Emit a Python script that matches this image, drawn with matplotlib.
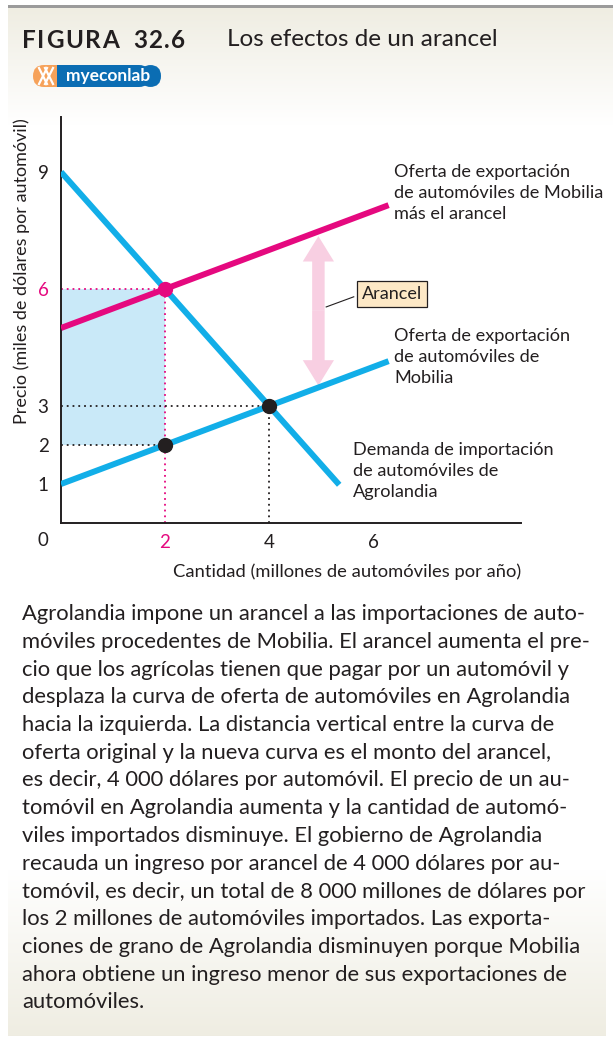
import numpy as np
import matplotlib
matplotlib.use("Agg")
import matplotlib.pyplot as plt
from matplotlib.patches import FancyBboxPatch, Rectangle, FancyArrow

# ---------------------------------------------------------------------------
# Data (quantities in millions of cars per year, prices in thousands of $)
# ---------------------------------------------------------------------------
supply_q = [0.0, 6.3]          # Mobilia export supply
supply_p = [1.0, 4.15]
tariff_q = [0.0, 6.3]          # supply plus tariff
tariff_p = [5.0, 8.15]
demand_q = [0.0, 5.35]         # Agrolandia import demand
demand_p = [9.0, 0.98]

free_q, free_p = 4, 3          # free-trade equilibrium
tariff_eq_q, tariff_eq_p = 2, 6  # equilibrium with tariff
exporter_p = 2                 # price received by Mobilia
arrow_q = 4.95                 # where the tariff arrow is drawn

x_tick_vals = [2, 4]
x_tick_labels = ["2", "4"]
y_tick_vals = [1, 2, 3, 6, 9]
y_tick_labels = ["1", "2", "3", "6", "9"]

caption_lines = [
    "Agrolandia impone un arancel a las importaciones de auto-",
    "móviles procedentes de Mobilia. El arancel aumenta el pre-",
    "cio que los agrícolas tienen que pagar por un automóvil y",
    "desplaza la curva de oferta de automóviles en Agrolandia",
    "hacia la izquierda. La distancia vertical entre la curva de",
    "oferta original y la nueva curva es el monto del arancel,",
    "es decir, 4\u00a0000 dólares por automóvil. El precio de un au-",
    "tomóvil en Agrolandia aumenta y la cantidad de automó-",
    "viles importados disminuye. El gobierno de Agrolandia",
    "recauda un ingreso por arancel de 4\u00a0000 dólares por au-",
    "tomóvil, es decir, un total de 8\u00a0000 millones de dólares por",
    "los 2 millones de automóviles importados. Las exporta-",
    "ciones de grano de Agrolandia disminuyen porque Mobilia",
    "ahora obtiene un ingreso menor de sus exportaciones de",
    "automóviles.",
]

# ---------------------------------------------------------------------------
# Styles
# ---------------------------------------------------------------------------
BLUE = "#12aee8"
PINK = "#e5097f"
SHADE = "#c9e9f8"
ARROW = "#f8cfe2"
TEXT = "#231f20"
plt.rcParams["font.family"] = ["Lato", "DejaVu Sans"]

W, H = 613, 1044
fig = plt.figure(figsize=(W / 100, H / 100), dpi=100)
fig.patch.set_facecolor("white")
renderer = fig.canvas.get_renderer()

# background axes in pixel coordinates
bg = fig.add_axes([0, 0, 1, 1], zorder=0)
bg.axis("off")

cream = np.array([0.937, 0.929, 0.886])
white = np.array([1.0, 1.0, 1.0])
t = np.linspace(0, 1, 200)[:, None]
top_grad = (cream * (1 - t) + white * t)[:, None, :]
bg.imshow(top_grad, extent=(8, W, 125, 7), aspect="auto", zorder=0)
bot_grad = (white * (1 - t) + cream * t)[:, None, :]
bg.imshow(bot_grad, extent=(8, 606, 1036, 870), aspect="auto", zorder=0)
bg.add_patch(Rectangle((8, 4.5), W - 8, 3, color="#9b9b9b", lw=0, zorder=1))
bg.set_xlim(0, W)
bg.set_ylim(H, 0)

# header, "FIGURA 32.6" with a bit of letter spacing
x = 22
for ch in "FIGURA  32.6":
    tx = bg.text(x, 40, ch, fontsize=17.5, fontweight="bold", color=TEXT,
                 va="center", ha="left")
    x += tx.get_window_extent(renderer).width + 1.6 if ch != " " else 6
bg.text(227, 40, "Los efectos de un arancel", fontsize=17.5, color=TEXT,
        va="center", ha="left")

# myeconlab badge
bg.add_patch(FancyBboxPatch((44, 65), 106, 22,
                            boxstyle="round,pad=0,rounding_size=11",
                            fc="#0b6db3", ec="none", zorder=2))
bg.add_patch(FancyBboxPatch((33, 65), 40, 22,
                            boxstyle="round,pad=0,rounding_size=11",
                            fc="#f6a25a", ec="none", zorder=3))
bg.add_patch(Rectangle((57, 65), 30, 22, fc="#0b6db3", ec="none", zorder=4))
bg.add_patch(FancyBboxPatch((140, 65), 21, 22,
                            boxstyle="round,pad=0,rounding_size=11",
                            fc="#0b6db3", ec="none", zorder=2))
bg.plot([39, 47], [68, 84], color="white", lw=1.6, zorder=5)
bg.plot([47, 39], [68, 84], color="white", lw=1.6, zorder=5)
bg.plot([45, 53], [68, 84], color="white", lw=1.6, zorder=5)
bg.plot([53, 45], [68, 84], color="white", lw=1.6, zorder=5)
bg.text(108, 76.5, "myeconlab", fontsize=12.5, fontweight="bold", color="white",
        ha="center", va="center", zorder=6)

# ---------------------------------------------------------------------------
# Chart axes: x=0 at px 61 (52 px/unit), y=0 at px 523 (39 px/unit)
# ---------------------------------------------------------------------------
x0, y0, sx, sy = 61, 523, 52.0, 39.0
xmax = (521 - x0) / sx
ymax = (y0 - 117) / sy
ax = fig.add_axes([x0 / W, 1 - y0 / H, (521 - x0) / W, (y0 - 117) / H], zorder=2)
ax.set_xlim(0, xmax)
ax.set_ylim(0, ymax)
ax.patch.set_alpha(0)
for s in ["top", "right"]:
    ax.spines[s].set_visible(False)
for s in ["left", "bottom"]:
    ax.spines[s].set_linewidth(1.4)
    ax.spines[s].set_color(TEXT)

# tariff revenue area
ax.add_patch(Rectangle((0, exporter_p), tariff_eq_q, tariff_eq_p - exporter_p,
                       fc=SHADE, ec="none", zorder=1))

dot = (0, (1, 2.2))
ax.plot([0, tariff_eq_q], [tariff_eq_p, tariff_eq_p], color=PINK, lw=1.3, ls=dot, zorder=2)
ax.plot([tariff_eq_q, tariff_eq_q], [0, tariff_eq_p], color=PINK, lw=1.3, ls=dot, zorder=2)
ax.plot([0, tariff_eq_q], [exporter_p, exporter_p], color=TEXT, lw=1.3, ls=dot, zorder=2)
ax.plot([0, free_q], [free_p, free_p], color=TEXT, lw=1.3, ls=dot, zorder=2)
ax.plot([free_q, free_q], [0, free_p], color=TEXT, lw=1.3, ls=dot, zorder=2)

# tariff arrow between the two supply curves
lo = np.interp(arrow_q, supply_q, supply_p) + 0.05
hi = np.interp(arrow_q, tariff_q, tariff_p) - 0.12
mid = (lo + hi) / 2
for end in (hi, lo):
    ax.add_patch(FancyArrow(arrow_q, mid, 0, end - mid, width=0.24,
                            head_width=0.6, head_length=0.65,
                            length_includes_head=True, fc=ARROW, ec="none", zorder=2))

ax.plot(demand_q, demand_p, color=BLUE, lw=4.3, solid_capstyle="butt", zorder=3)
ax.plot(supply_q, supply_p, color=BLUE, lw=4.3, solid_capstyle="butt", zorder=3)
ax.plot(tariff_q, tariff_p, color=PINK, lw=4.3, solid_capstyle="butt", zorder=3)

ax.plot([tariff_eq_q, free_q], [exporter_p, free_p], "o", color=TEXT, ms=10, zorder=4)
ax.plot([tariff_eq_q], [tariff_eq_p], "o", color=PINK, ms=10, zorder=4)

# ticks
ax.set_xticks(x_tick_vals + [6])
ax.set_xticklabels(x_tick_labels + ["6"], fontsize=13.5, color=TEXT)
ax.get_xticklabels()[0].set_color(PINK)
ax.tick_params(axis="x", length=0, pad=8)
ax.set_xticks([6], minor=True)
ax.tick_params(axis="x", which="minor", direction="in", length=7, width=1.2, color=TEXT)
ax.set_yticks(y_tick_vals)
ax.set_yticklabels(y_tick_labels, fontsize=13.5, color=TEXT)
ax.get_yticklabels()[3].set_color(PINK)
ax.tick_params(axis="y", length=0, pad=9)
ax.annotate("0", xy=(0, 0), xytext=(-18, -18), textcoords="offset pixels",
            fontsize=13.5, color=TEXT, ha="center", va="center")

bg.text(22, 271, "Precio (miles de dólares por automóvil)", rotation=90,
        fontsize=13.0, color=TEXT, ha="center", va="center")
bg.text(347, 572, "Cantidad (millones de automóviles por año)",
        fontsize=13.2, color=TEXT, ha="center", va="center")

# curve labels
lab = dict(fontsize=13.1, color=TEXT, ha="left", va="top", linespacing=1.38)
bg.text(394, 164, "Oferta de exportación\nde automóviles de Mobilia\nmás el arancel", **lab)
bg.text(394, 328, "Oferta de exportación\nde automóviles de\nMobilia", **lab)
bg.text(353, 442, "Demanda de importación\nde automóviles de\nAgrolandia", **lab)
bg.text(81, 330, "Ingresos\npor el\narancel", **lab)

# tariff tag
ax.plot([5.1, 5.63], [5.54, 5.8], color=TEXT, lw=0.8, zorder=3)
bg.text(392, 294, "Arancel", fontsize=13, color=TEXT, ha="center", va="center", zorder=5,
        bbox=dict(boxstyle="square,pad=0.25", fc="#fde8c6", ec=TEXT, lw=0.9))

# ---------------------------------------------------------------------------
# Caption (ragged right), font size fitted so the first line spans the column
# ---------------------------------------------------------------------------
left, right, first_base, step = 22, 588, 620, 27.75
fs0 = 14.0
probe = bg.text(0, 0, caption_lines[0], fontsize=fs0)
fs = fs0 * (right - left) / probe.get_window_extent(renderer).width
probe.remove()

for i, line in enumerate(caption_lines):
    bg.text(left, first_base + i * step, line, fontsize=fs, color=TEXT,
            ha="left", va="baseline")

fig.savefig("out.png", dpi=100)
